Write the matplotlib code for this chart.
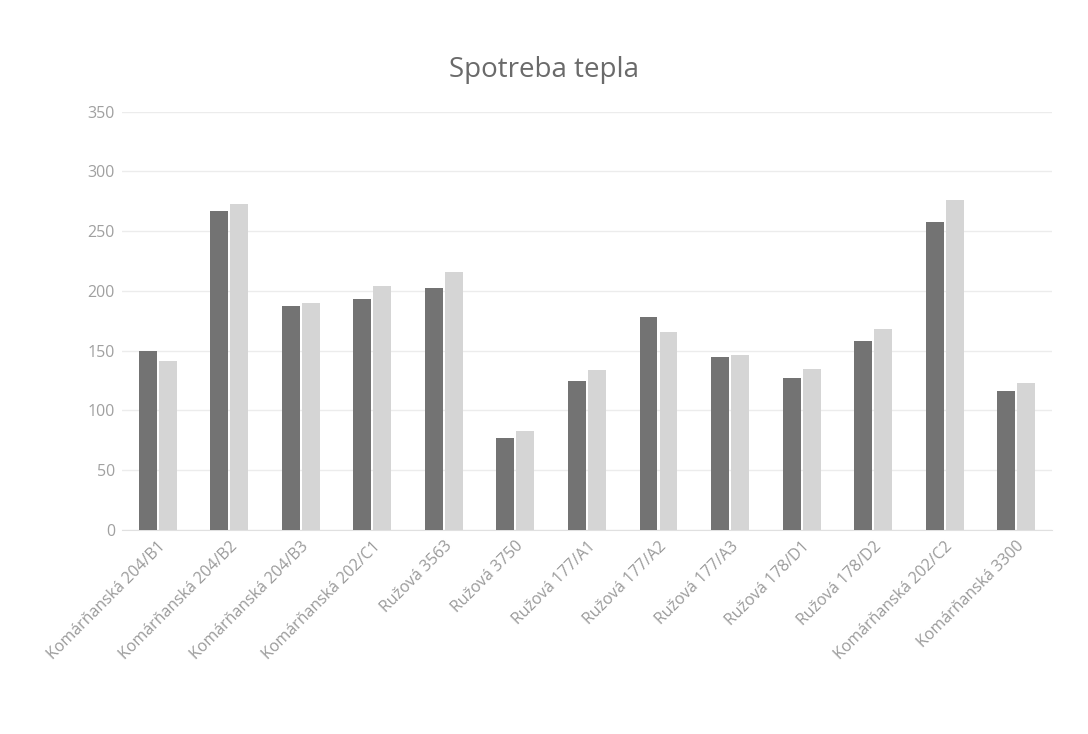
import numpy as np
import matplotlib.pyplot as plt

plt.rcParams['font.family'] = ['Open Sans', 'DejaVu Sans']

# Data
categories = ['Komárňanská 204/B1', 'Komárňanská 204/B2', 'Komárňanská 204/B3',
              'Komárňanská 202/C1', 'Ružová 3563', 'Ružová 3750', 'Ružová 177/A1',
              'Ružová 177/A2', 'Ružová 177/A3', 'Ružová 178/D1', 'Ružová 178/D2',
              'Komárňanská 202/C2', 'Komárňanská 3300']
series_dark = [150, 267, 187, 193, 202, 77, 125, 178, 145, 127, 158, 258, 116]
series_light = [141, 273, 190, 204, 216, 83, 134, 166, 146, 135, 168, 276, 123]
y_ticks = [0, 50, 100, 150, 200, 250, 300, 350]

fig = plt.figure(figsize=(10.88, 7.34), dpi=100)
ax = fig.add_axes([0.112, 0.278, 0.855, 0.57])

x = np.arange(len(categories))
w = 0.25
ax.bar(x - 0.14, series_dark, width=w, color='#737373', zorder=3)
ax.bar(x + 0.14, series_light, width=w, color='#d5d5d5', zorder=3)

ax.set_xlim(-0.5, len(categories) - 0.5)
ax.set_ylim(0, 350)
ax.set_yticks(y_ticks)
ax.yaxis.grid(True, color='#ececec', linewidth=1, zorder=0)
ax.set_xticks(x)
ax.set_xticklabels(categories, rotation=45, ha='right', rotation_mode='anchor',
                   fontsize=11.5, color='#9a9a9a')
ax.tick_params(axis='y', labelsize=11.5, labelcolor='#a0a0a0', length=0, pad=5)
ax.tick_params(axis='x', length=0, pad=6)
for s in ['top', 'right', 'left']:
    ax.spines[s].set_visible(False)
ax.spines['bottom'].set_color('#e0e0e0')

fig.text(0.5, 0.905, 'Spotreba tepla', ha='center', va='center',
         fontsize=20, color='#6a6a6a')

fig.savefig('out.png', dpi=100)
